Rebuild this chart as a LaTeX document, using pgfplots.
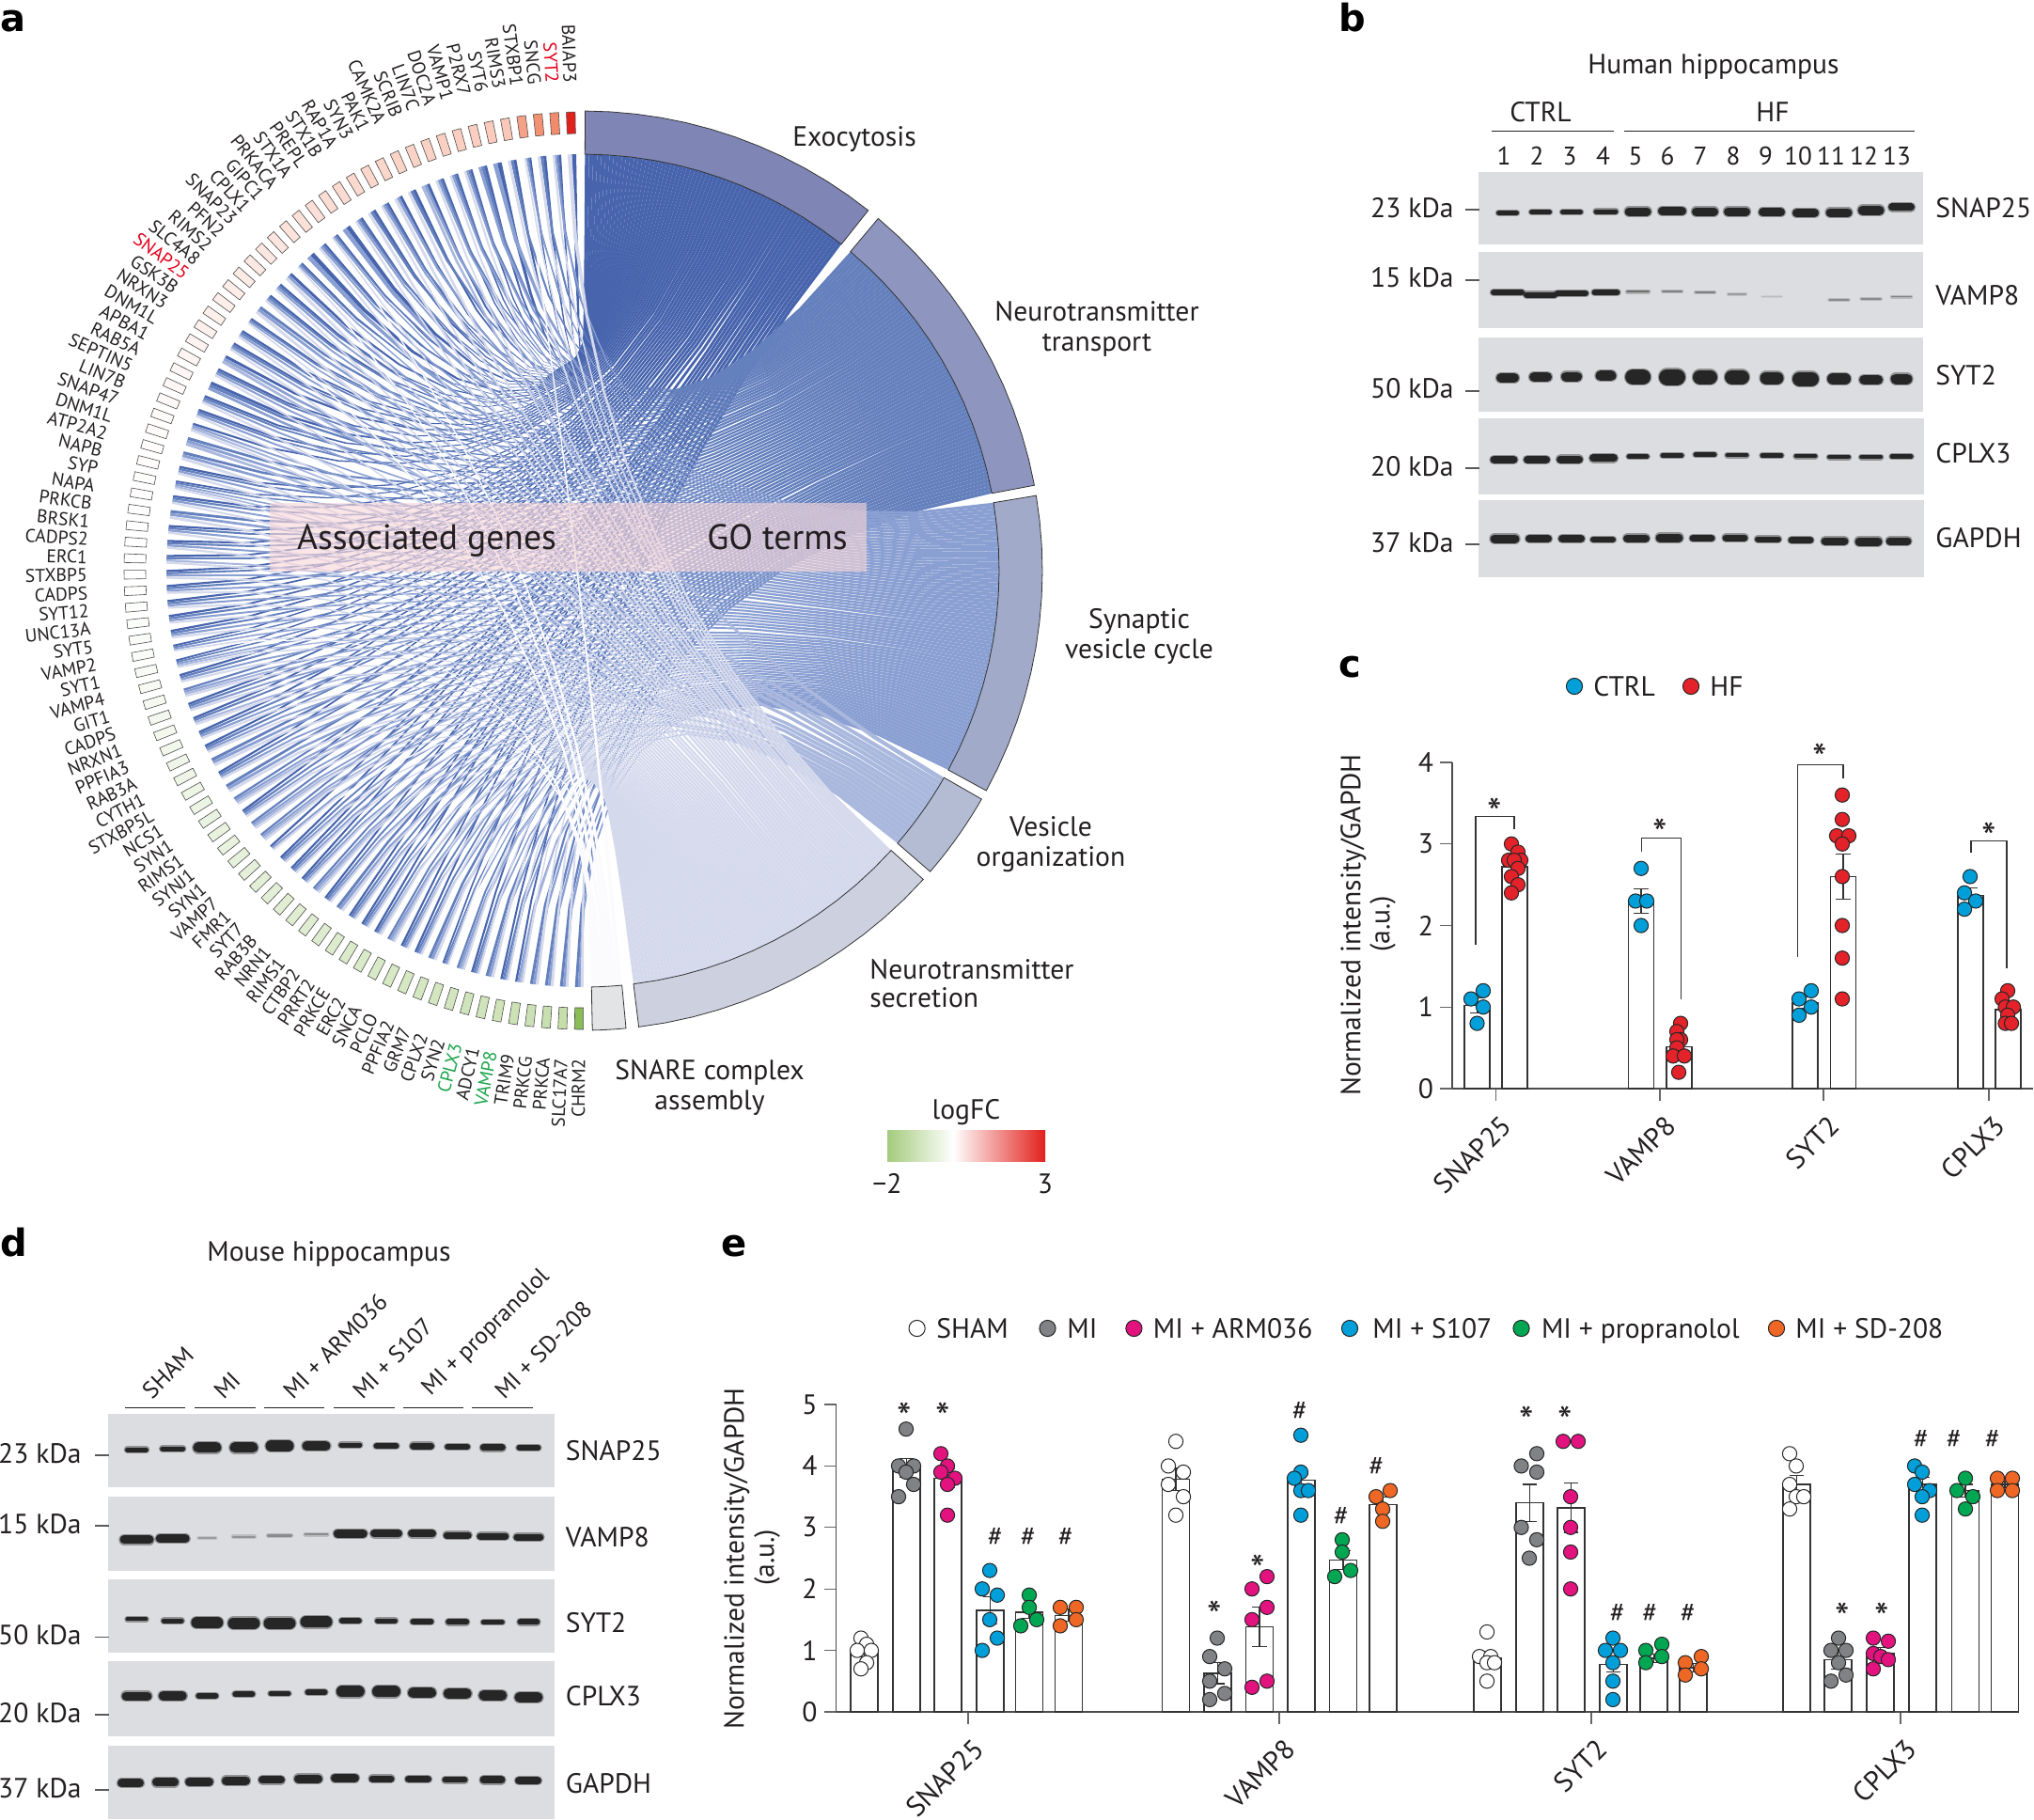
\documentclass[border=0pt]{standalone}
\usepackage{fontspec}
\setmainfont{PT Sans}
\newfontfamily\letterfont{DejaVu Sans}
\usepackage{pgfplots}
\pgfplotsset{compat=1.18}

% 1 reference pixel = 0.5pt
\newcommand\fs{\fontsize{14.8}{17}\selectfont}
\newcommand\fr{\fontsize{12.6}{15}\selectfont}
\newcommand\fn{\fontsize{13.6}{15}\selectfont}
\newcommand\fl{\fontsize{18.8}{22}\selectfont}
\newcommand\gfs{\fontsize{9.8}{11}\selectfont}
\newcommand\pl{\letterfont\bfseries\fontsize{20}{22}\selectfont}
\newcommand\st{\makebox[0pt]{\raisebox{-12.5pt}[0pt][0pt]{\fontsize{22}{22}\selectfont *}}}

\definecolor{txt}{HTML}{231F20}
\definecolor{goA}{HTML}{4764AD}
\definecolor{goB}{HTML}{6480BD}
\definecolor{goC}{HTML}{8A9FD2}
\definecolor{goD}{HTML}{AAB8DE}
\definecolor{goE}{HTML}{D4D9EC}
\definecolor{goF}{HTML}{FBFBFD}
\definecolor{bA}{HTML}{7F86B5}
\definecolor{bB}{HTML}{8E96C0}
\definecolor{bC}{HTML}{A1ABC9}
\definecolor{bD}{HTML}{B4BCD3}
\definecolor{bE}{HTML}{CDD1DF}
\definecolor{bF}{HTML}{E3E4E6}
\definecolor{colG}{HTML}{7DB545}
\definecolor{colO}{HTML}{EE5A2C}
\definecolor{colR}{HTML}{E2201C}
\definecolor{strip}{HTML}{F7D5D8}
\definecolor{blot}{HTML}{DCDDE0}
\definecolor{bd}{HTML}{262626}
\definecolor{barc}{HTML}{333333}
\definecolor{cblue}{HTML}{009FDA}
\definecolor{cred}{HTML}{E4222A}
\definecolor{cgrey}{HTML}{808285}
\definecolor{cmag}{HTML}{E2127F}
\definecolor{cgreen}{HTML}{00A651}
\definecolor{corange}{HTML}{EF6724}
\definecolor{gk}{HTML}{231F20}
\definecolor{gr}{HTML}{E2001A}
\definecolor{gg}{HTML}{1AA34A}

% gene table: name, logFC, linked GO terms, label colour
\newcount\ng \ng=0
\newcommand\gene[4]{\global\advance\ng by 1
  \expandafter\gdef\csname gn\the\ng\endcsname{#1}%
  \expandafter\gdef\csname gl\the\ng\endcsname{#2}%
  \expandafter\gdef\csname gt\the\ng\endcsname{#3}%
  \expandafter\gdef\csname gc\the\ng\endcsname{#4}}
\gene{BAIAP3}{3.0}{1,5}{gk}\gene{SYT2}{2.1}{1,2,3,5}{gr}\gene{SNCG}{2.0}{1,2,5}{gk}
\gene{STXBP1}{1.7}{1,2,3,5,6}{gk}\gene{RIMS3}{1.0}{1,2,5}{gk}\gene{SYT6}{0.95}{1,3}{gk}
\gene{P2RX7}{0.9}{1,2,3}{gk}\gene{VAMP1}{0.88}{1,2,3,5}{gk}\gene{DOC2A}{0.85}{1,2,3,5}{gk}
\gene{LIN7C}{0.82}{1,2,3,5}{gk}\gene{SCRIB}{0.8}{1,3,4}{gk}\gene{CAMK2A}{0.78}{1,2,5}{gk}
\gene{PAK1}{0.75}{1,3,5}{gk}\gene{SYN3}{0.72}{1,2,3,5}{gk}\gene{RAP1A}{0.7}{1,2,5}{gk}
\gene{STX1B}{0.66}{1,2,3,5}{gk}\gene{PREPL}{0.62}{1,3}{gk}\gene{STX1A}{0.58}{1,2,3,5,6}{gk}
\gene{PRKACA}{0.54}{1,2,3,5}{gk}\gene{GIPC1}{0.5}{1,3}{gk}\gene{CPLX1}{0.46}{1,2,3,5,6}{gk}
\gene{SNAP23}{0.43}{1,3,5}{gk}\gene{PFN2}{0.4}{1,2,3,5}{gk}\gene{RIMS2}{0.37}{1,2,3,5}{gk}
\gene{SLC4A8}{0.34}{2,3,5}{gk}\gene{SNAP25}{0.31}{1,2,3,5,6}{gr}\gene{GSK3B}{0.28}{1,2,3,5}{gk}
\gene{NRXN3}{0.25}{1,2,3,5}{gk}\gene{DNM1L}{0.22}{1,3,4}{gk}\gene{APBA1}{0.19}{1,2,3,5}{gk}
\gene{RAB5A}{0.16}{1,2,3}{gk}\gene{SEPTIN5}{0.14}{1,2,3,5}{gk}\gene{LIN7B}{0.12}{1,2,3,5}{gk}
\gene{SNAP47}{0.1}{1,3,4,5}{gk}\gene{DNM1L}{0.08}{2,3,4}{gk}\gene{ATP2A2}{0.06}{2,3,5}{gk}
\gene{NAPB}{0.05}{1,2,3,5}{gk}\gene{SYP}{0.04}{1,2,3,4,5}{gk}\gene{NAPA}{0.03}{1,2,3,5}{gk}
\gene{PRKCB}{0.02}{2,3,5}{gk}\gene{BRSK1}{0.01}{1,2,3,5}{gk}\gene{CADPS2}{0}{1,2,3,5}{gk}
\gene{ERC1}{0}{1,2,4,5}{gk}\gene{STXBP5}{0}{1,2,3,5}{gk}\gene{CADPS}{-0.02}{1,2,3,5}{gk}
\gene{SYT12}{-0.04}{1,2,3,5}{gk}\gene{UNC13A}{-0.06}{1,2,3,5}{gk}\gene{SYT5}{-0.08}{1,2,3,5}{gk}
\gene{VAMP2}{-0.1}{1,2,3,5,6}{gk}\gene{SYT1}{-0.12}{1,2,3,4,5}{gk}\gene{VAMP4}{-0.14}{1,2,3,5}{gk}
\gene{GIT1}{-0.16}{2,3,4,5}{gk}\gene{CADPS}{-0.18}{1,2,3,5}{gk}\gene{NRXN1}{-0.2}{1,2,4,5}{gk}
\gene{PPFIA3}{-0.22}{1,2,3,5}{gk}\gene{RAB3A}{-0.24}{1,2,3,5}{gk}\gene{CYTH1}{-0.26}{2,3,5}{gk}
\gene{STXBP5L}{-0.28}{1,2,3,5}{gk}\gene{NCS1}{-0.3}{2,3,5}{gk}\gene{SYN1}{-0.32}{2,3,4,5}{gk}
\gene{RIMS1}{-0.34}{1,2,3,5}{gk}\gene{SYNJ1}{-0.36}{2,3,4,5}{gk}\gene{SYN1}{-0.38}{2,3,4,5}{gk}
\gene{VAMP7}{-0.4}{1,3,5,6}{gk}\gene{FMR1}{-0.42}{1,2,3,5}{gk}\gene{SYT7}{-0.44}{1,2,3,5}{gk}
\gene{RAB3B}{-0.46}{1,2,3,5}{gk}\gene{NRN1}{-0.48}{2,3,4,5}{gk}\gene{RIMS1}{-0.5}{1,2,3,5}{gk}
\gene{CTBP2}{-0.52}{2,3,5}{gk}\gene{PRRT2}{-0.54}{1,2,3,5}{gk}\gene{PRKCE}{-0.56}{1,2,3,5}{gk}
\gene{ERC2}{-0.58}{1,2,4,5}{gk}\gene{SNCA}{-0.6}{2,3,4,5}{gk}\gene{PCLO}{-0.62}{1,2,3,5}{gk}
\gene{PPFIA2}{-0.64}{1,2,3,5}{gk}\gene{GRM7}{-0.66}{2,3,5}{gk}\gene{CPLX2}{-0.68}{1,2,3,5,6}{gk}
\gene{SYN2}{-0.7}{2,3,4,5}{gk}\gene{CPLX3}{-0.72}{1,2,3,5}{gg}\gene{ADCY1}{-0.74}{2,3,5}{gk}
\gene{VAMP8}{-0.76}{1,2,3,5}{gg}\gene{TRIM9}{-0.78}{1,3,4,5}{gk}\gene{PRKCG}{-0.8}{2,3,5}{gk}
\gene{PRKCA}{-0.85}{2,3,5}{gk}\gene{SLC17A7}{-0.9}{2,3,5}{gk}\gene{CHRM2}{-1.8}{2,3,5}{gk}

\newcount\nl \newcount\nn
\newcommand\ribbon[5]{%
  \pgfmathsetmacro\xa{443*sin(#1)}\pgfmathsetmacro\ya{443*cos(#1)}%
  \pgfmathsetmacro\xb{443*sin(#2)}\pgfmathsetmacro\yb{443*cos(#2)}%
  \pgfmathsetmacro\xc{443*sin(#3)}\pgfmathsetmacro\yc{443*cos(#3)}%
  \pgfmathsetmacro\xd{443*sin(#4)}\pgfmathsetmacro\yd{443*cos(#4)}%
  \gdef\co{}%
  \foreach \A/\B in {1/0,.81/.01,.64/.04,.49/.09,.36/.16,.25/.25,.16/.36,.09/.49,.04/.64,.01/.81,0/1}{%
    \pgfmathsetmacro\px{620+\A*\xa+\B*\xc}\pgfmathsetmacro\py{607-\A*\ya-\B*\yc}%
    \xdef\co{\co(\px,\py)}}%
  \foreach \A/\B in {0/1,.01/.81,.04/.64,.09/.49,.16/.36,.25/.25,.36/.16,.49/.09,.64/.04,.81/.01,1/0}{%
    \pgfmathsetmacro\px{620+\A*\xb+\B*\xd}\pgfmathsetmacro\py{607-\A*\yb-\B*\yd}%
    \xdef\co{\co(\px,\py)}}%
  \edef\tmp{\noexpand\addplot[forget plot,draw=none,fill=#5,no markers] coordinates {\co} -- cycle;}\tmp}

\newcommand\goband[3]{%
  \gdef\co{}%
  \foreach \s in {0,...,12}{\pgfmathsetmacro\th{#1+(#2-#1)*\s/12}%
    \pgfmathsetmacro\px{620+489*sin(\th)}\pgfmathsetmacro\py{607-489*cos(\th)}\xdef\co{\co(\px,\py)}}%
  \foreach \s in {12,11,...,0}{\pgfmathsetmacro\th{#1+(#2-#1)*\s/12}%
    \pgfmathsetmacro\px{620+443*sin(\th)}\pgfmathsetmacro\py{607-443*cos(\th)}\xdef\co{\co(\px,\py)}}%
  \edef\tmp{\noexpand\addplot[forget plot,draw=barc,line width=.4pt,fill=#3,no markers] coordinates {\co} -- cycle;}\tmp}

\newcommand\blot[4]{\addplot[forget plot,draw=none,fill=blot,no markers] coordinates {(#1,#2)(#3,#2)(#3,#4)(#1,#4)} -- cycle;}
\newcommand\kd[2]{\addplot[forget plot,no markers,color=black!65,line width=.6pt] coordinates {(#1,#2)(#1+15,#2)};}
\newcommand\bands[1]{%
  \foreach \x/\y/\w/\h/\s in {#1}{%
    \pgfmathsetmacro\xl{\x-\w/2+\h/2}\pgfmathsetmacro\xr{\x+\w/2-\h/2}%
    \pgfmathsetmacro\lw{\h*0.5}\pgfmathsetmacro\lh{(\h+2.5)*0.5}%
    \edef\tmp{\noexpand\addplot[forget plot,no markers,line cap=round,line width=\lh pt,color=bd!\s!blot,opacity=.4] coordinates {(\xl,\y)(\xr,\y)};
      \noexpand\addplot[forget plot,no markers,line cap=round,line width=\lw pt,color=bd!\s!blot] coordinates {(\xl,\y)(\xr,\y)};}\tmp}}
\tikzset{lab/.style={font=\fs,text=txt,inner sep=0pt,text height=10.4pt,text depth=0pt}}
\newcommand\txt[3][]{\node[lab,#1] at (axis cs:#2) {#3};}
\newcommand\keydot[2]{\addplot[forget plot,only marks,mark=*,mark size=4.3pt,mark options={fill=#2,draw=black!85,line width=.5pt}] coordinates {(#1)};}

% bar + error bar + single values
\newcommand\grp[5]{%
  \addplot[ybar,forget plot,bar width=\bw,bar shift=0pt,fill=white,draw=barc,line width=.7pt,
    error bars/.cd,y dir=both,y explicit,error bar style={line width=.6pt,color=barc},
    error mark options={rotate=90,mark size=3.8pt,line width=.6pt,color=barc}]
    coordinates {(#1,#2) +- (0,#3)};
  \addplot[forget plot,only marks,mark=*,mark size=3.8pt,mark options={fill=#4,draw=black!85,line width=.5pt}] coordinates {#5};}
\newcommand\sig[3]{\node[font=\fs,text=txt,inner sep=0pt] at (axis cs:#1,#2) {#3};}
\newcommand\brk[8]{\addplot[forget plot,no markers,color=barc,line width=.6pt] coordinates {(#1,#2)(#3,#4)(#5,#6)(#7,#8)};}

\pgfplotsset{panel/.style={scale only axis,anchor=south west,axis x line*=bottom,axis y line*=left,
  axis line style={-,color=black!70,line width=.6pt},tick style={color=black!60,line width=.6pt},
  tick align=outside,major tick length=6.5pt,clip=false,
  /pgf/number format/assume math mode=true,
  yticklabel style={font=\fs,text=txt},
  xticklabel style={font=\fs,text=txt,rotate=45,anchor=north east,inner sep=0pt,xshift=-3.5pt,yshift=-6pt},
  xticklabels={SNAP25,VAMP8,SYT2,CPLX3}}}

\begin{document}
\begin{tikzpicture}
\useasboundingbox (0,0) rectangle (1082pt,967.5pt);
\begin{axis}[at={(0,0)},anchor=south west,scale only axis,width=1082pt,height=967.5pt,
  xmin=0,xmax=2164,ymin=0,ymax=1935,y dir=reverse,hide axis,clip=false]

% --- a: ribbons, one GO term after the other
\foreach \tid/\ts/\te/\tc in {1/0.3/38.4/goA,2/40/79.3/goB,3/80.6/118.6/goC,4/119.8/130.9/goD,5/132.2/173/goE,6/174.6/178.8/goF}{%
  \global\nl=0
  \foreach \gi in {1,...,87}{%
    \expandafter\let\expandafter\tm\csname gt\gi\endcsname
    \foreach \dg in \tm {\ifnum\dg=\tid\relax\global\advance\nl by 1 \fi}}%
  \pgfmathsetmacro\db{(\te-\ts)/\the\nl}%
  \xdef\cur{\ts}%
  \foreach \gi in {1,...,87}{%
    \expandafter\let\expandafter\tm\csname gt\gi\endcsname
    \global\nn=0
    \foreach \dg in \tm {\global\advance\nn by 1 }%
    \foreach \dg [count=\kk] in \tm {%
      \ifnum\dg=\tid\relax
        \pgfmathsetmacro\gm{358.5-(\gi-1)*2.07}%
        \pgfmathsetmacro\ga{\gm+0.6-(\kk-1)*1.2/\the\nn}%
        \pgfmathsetmacro\gb{\gm+0.6-\kk*1.2/\the\nn}%
        \pgfmathsetmacro\tb{\cur+\db}%
        \ribbon{\ga}{\gb}{\cur}{\tb}{\tc}%
        \xdef\cur{\tb}%
      \fi}}}

% GO term bands
\goband{0.3}{38.4}{bA}\goband{40}{79.3}{bB}\goband{80.6}{118.6}{bC}
\goband{119.8}{130.9}{bD}\goband{132.2}{173}{bE}\goband{174.6}{178.8}{bF}

% gene tiles and names
\foreach \gi in {1,...,87}{%
  \pgfmathsetmacro\gm{358.5-(\gi-1)*2.07}%
  \pgfmathsetmacro\av{\gm+0.55}\pgfmathsetmacro\bv{\gm-0.55}%
  \pgfmathsetmacro\xa{620+488*sin(\av)}\pgfmathsetmacro\ya{607-488*cos(\av)}%
  \pgfmathsetmacro\xb{620+488*sin(\bv)}\pgfmathsetmacro\yb{607-488*cos(\bv)}%
  \pgfmathsetmacro\xc{620+465*sin(\bv)}\pgfmathsetmacro\yc{607-465*cos(\bv)}%
  \pgfmathsetmacro\xd{620+465*sin(\av)}\pgfmathsetmacro\yd{607-465*cos(\av)}%
  \edef\lf{\csname gl\gi\endcsname}%
  \pgfmathsetmacro\pc{\lf<0 ? -\lf/2*100 : (\lf>2.5 ? 100 : \lf/3*100)}%
  \pgfmathparse{\lf<0 ? "colG" : (\lf>2.5 ? "colR" : "colO")}\edef\hue{\pgfmathresult}%
  \pgfmathsetmacro\rl{519+8*abs(sin(\gm))}%
  \pgfmathsetmacro\lx{620+\rl*sin(\gm)}\pgfmathsetmacro\ly{607-\rl*cos(\gm)}%
  \pgfmathsetmacro\rot{270-\gm}%
  \edef\tmp{\noexpand\addplot[forget plot,draw=black!70,line width=.3pt,fill=\hue!\pc!white,no markers] coordinates {(\xa,\ya)(\xb,\yb)(\xc,\yc)(\xd,\yd)} -- cycle;
    \noexpand\node[anchor=east,rotate=\rot,inner sep=0pt,font=\noexpand\gfs,text=\csname gc\gi\endcsname] at (axis cs:\lx,\ly) {\csname gn\gi\endcsname};}\tmp}

% pink strip
\addplot[forget plot,draw=none,fill=strip,fill opacity=.62,no markers] coordinates {(287,535)(922,535)(922,608)(287,608)} -- cycle;
\node[font=\fl,text=txt,inner sep=0pt,text height=13pt,text depth=0pt] at (axis cs:454,571) {Associated genes};
\node[font=\fl,text=txt,inner sep=0pt,text height=13pt,text depth=0pt] at (axis cs:827,571) {GO terms};

\txt{909,145}{Exocytosis}
\txt{1167,331}{Neurotransmitter}\txt{1167,363}{transport}
\txt{1212,658}{Synaptic}\txt{1212,690}{vesicle cycle}
\txt{1118,879}{Vesicle}\txt{1118,911}{organization}
\txt[anchor=west]{925,1031}{Neurotransmitter}\txt[anchor=west]{925,1061}{secretion}
\txt{755,1138}{SNARE complex}\txt{755,1170}{assembly}

% logFC key
\addplot[forget plot,draw=none,left color=colG!70!white,right color=white,no markers] coordinates {(944,1202)(1014,1202)(1014,1235)(944,1235)} -- cycle;
\addplot[forget plot,draw=none,left color=white,right color=colR,no markers] coordinates {(1014,1202)(1112,1202)(1112,1235)(1014,1235)} -- cycle;
\txt{1028,1180}{logFC}\txt{944,1259}{−2}\txt{1112,1259}{3}

% --- b: blots
\txt{1823,68}{Human hippocampus}
\txt{1639,119}{CTRL}\txt{1886,119}{HF}
\addplot[forget plot,no markers,color=txt,line width=.8pt] coordinates {(1587,139.6)(1717,139.6)};
\addplot[forget plot,no markers,color=txt,line width=.8pt] coordinates {(1728,139.6)(2037,139.6)};
\foreach \n/\x in {1/1600,2/1635,3/1670,4/1705.5,5/1740,6/1774,7/1809,8/1844,9/1878.6,10/1913,11/1948,12/1983,13/2018}{%
  \edef\tmp{\noexpand\node[lab,font=\noexpand\fn] at (axis cs:\x,165) {\n};}\tmp}
\blot{1573}{183}{2046}{260}\blot{1573}{268}{2046}{349}\blot{1573}{359}{2046}{437.5}\blot{1573}{445}{2047}{526}\blot{1573}{532}{2047}{613.5}
\bands{1604/226.5/24/5/100,1639/225.7/24/5/100,1672/225.7/24/5/100,1708.5/225/26/5/100,1742.6/225/28/9/100,1779/224.5/30/9/100,1814/225/28/9/100,1848/225/28/9/100,1885/225.7/28/9/100,1921/226.5/28/9/100,1956.5/226/28/9/100,1990.6/223.7/28/10/100,2023/220.4/28/8/100}
\bands{1604/311/36/6/100,1639/313.5/36/6/100,1672/312/36/6/100,1708.5/311/30/6/100,1742.6/310/25/2.5/60,1779/310/22/2/50,1814/311/22/2/50,1848/313/20/1.5/35,1885/315.5/22/1/18,1956.5/319/22/1.5/45,1990.6/318/22/1.5/45,2023/315.5/22/1.5/50}
\bands{1604/402/24/10/100,1639/401/24/10/100,1672/400.5/22/10/100,1708.5/399.6/22/11/100,1742.6/401/27/16/100,1779/401/28/17/100,1814/401/26/15/100,1848/401/26/15/100,1885/402/25/13/100,1921/403/28/15/100,1956.5/403/25/12/100,1990.6/404/25/10/100,2023/403/23/11/100}
\bands{1600/489/29/8/100,1635/489/28/8/100,1670/488.6/28/8/100,1706/487.3/30/8/100,1742.6/485.7/24/5/100,1779/484.5/25/5/100,1814/483.7/25/5/100,1848/484/25/4.5/100,1885/484.5/25/4.5/100,1921/485/25/4.5/100,1956.5/486/25/4.5/100,1990.6/486/25/4.5/100,2023/485.7/25/4.5/100}
\bands{1601/573/31/9/100,1637/573/28/8/100,1672/573/28/8/100,1705.5/574/27/6/100,1741/572.6/28/8/100,1776/572/29/9/100,1811/572.6/27/7/100,1846/572/27/7/100,1881/573.5/28/6/100,1916/574.7/27/7/100,1952/575.5/29/8/100,1988/576/29/9/100,2020/575.5/27/8/100}
\kd{1559}{223}\kd{1559}{298}\kd{1559}{416}\kd{1559}{498}\kd{1559}{579}
\txt[anchor=east]{1547,221}{23 kDa}\txt[anchor=east]{1547,295}{15 kDa}\txt[anchor=east]{1547,413}{50 kDa}\txt[anchor=east]{1547,496}{20 kDa}\txt[anchor=east]{1547,577}{37 kDa}
\txt[anchor=west]{2059,221}{SNAP25}\txt[anchor=west]{2059,314}{VAMP8}\txt[anchor=west]{2059,399}{SYT2}\txt[anchor=west]{2059,482}{CPLX3}\txt[anchor=west]{2059,572}{GAPDH}

% --- d: blots
\txt{350,1331}{Mouse hippocampus}
\foreach \x/\n in {162/SHAM,238/MI,312/MI + ARM036,386/MI + S107,462/MI + propranolol,537/MI + SD-208}{%
  \edef\tmp{\noexpand\node[font=\noexpand\fr,text=txt,inner sep=0pt,rotate=45,anchor=south west] at (axis cs:\x,1490) {\n};}\tmp}
\foreach \a/\b in {133/197,207/272,280.5/345,355/420,429/493,502/567}{%
  \edef\tmp{\noexpand\addplot[forget plot,no markers,color=txt,line width=.8pt] coordinates {(\a,1497.6)(\b,1497.6)};}\tmp}
\blot{115}{1504}{590}{1581.5}\blot{115}{1591.6}{590}{1670.6}\blot{115}{1680}{590}{1758}\blot{115}{1767}{590}{1847}\blot{115}{1856.5}{590}{1935}
\bands{145.5/1542.2/25/5/100,183.7/1541/27/5/100,220.4/1539.8/30/11/100,259.4/1539.8/30/11/100,297.5/1538.2/30/12/100,336.5/1538.2/30/10/100,372.8/1537/25/5/100,411/1538.2/27/6/100,449/1538.2/26/7/100,486.7/1539/27/6/100,524.3/1539.8/27/7/100,562.4/1539.8/26/6/100}
\bands{145.5/1637.8/36/9/100,183.7/1636.6/36/9/100,220.4/1636.2/20/2/35,259.4/1634.6/25/2/40,297.5/1633.3/27/2.5/45,336.5/1632/26/2.5/45,372.8/1631.3/36/9/100,411/1631.3/34/8/100,449/1631.3/30/8/100,486.7/1633/30/7/100,524.3/1634/34/7/100,562.4/1635/32/7/100}
\bands{145.5/1722.4/24/4/100,183.7/1724/24/5/100,220.4/1726/34/12/100,259.4/1726.5/34/12/100,297.5/1726.5/34/12/100,336.5/1725.3/34/12/100,372.8/1724/24/6/100,411/1724/24/5/100,449/1724.9/25/6/100,486.7/1725.3/25/6/100,524.3/1725.7/25/5/100,562.4/1725.3/24/6/100}
\bands{145.5/1804.2/32/9/100,183.7/1803.8/30/10/100,220.4/1803.8/24/6/100,259.4/1802.2/24/6/100,297.5/1801.4/24/5/100,336.5/1800.2/24/6/100,372.8/1799.4/30/12/100,411/1799.4/30/12/100,449/1800.6/30/11/100,486.7/1801.4/30/11/100,524.3/1803.4/30/11/100,562.4/1805.5/30/11/100}
\bands{139/1896.6/28/9/100,176/1895.8/28/9/100,212/1895.4/30/9/100,251/1894.2/30/9/100,289/1893.4/28/8/100,328/1892.1/30/9/100,367/1891.3/30/9/100,406/1892.1/27/7/100,445/1892.5/28/7/100,484/1893.4/27/6/100,524/1893.4/27/8/100,562/1894.2/28/8/100}
\kd{101}{1548}\kd{101}{1623}\kd{101}{1741.5}\kd{101}{1824}\kd{101}{1904}
\txt[anchor=east]{87,1546}{23 kDa}\txt[anchor=east]{87,1621}{15 kDa}\txt[anchor=east]{87,1739}{50 kDa}\txt[anchor=east]{87,1822}{20 kDa}\txt[anchor=east]{87,1902}{37 kDa}
\txt[anchor=west]{601.5,1543}{SNAP25}\txt[anchor=west]{601.5,1635}{VAMP8}\txt[anchor=west]{601.5,1726.5}{SYT2}\txt[anchor=west]{601.5,1804}{CPLX3}\txt[anchor=west]{601.5,1897}{GAPDH}

% legends and y titles of c, e
\keydot{1675,730}{cblue}\txt[anchor=west]{1695,730}{CTRL}\keydot{1799,730}{cred}\txt[anchor=west]{1819,730}{HF}
\node[lab,rotate=90] at (axis cs:1437,984) {Normalized intensity/GAPDH};
\node[lab,rotate=90] at (axis cs:1468,983) {(a.u.)};
\keydot{975.6,1413}{white}\txt[anchor=west]{996,1413}{SHAM}
\keydot{1114.5,1413}{cgrey}\txt[anchor=west]{1135,1413}{MI}
\keydot{1206.4,1413}{cmag}\txt[anchor=west]{1226.5,1413}{MI + ARM036}
\keydot{1436,1413}{cblue}\txt[anchor=west]{1460,1413}{MI + S107}
\keydot{1618.5,1413}{cgreen}\txt[anchor=west]{1639.6,1413}{MI + propranolol}
\keydot{1890,1413}{corange}\txt[anchor=west]{1910,1413}{MI + SD-208}
\node[lab,rotate=90] at (axis cs:781,1658) {Normalized intensity/GAPDH};
\node[lab,rotate=90] at (axis cs:813,1657) {(a.u.)};

% panel letters
\node[font=\pl,text=black,inner sep=0pt,anchor=base west] at (axis cs:0,33) {a};
\node[font=\pl,text=black,inner sep=0pt,anchor=base west] at (axis cs:1424,33) {b};
\node[font=\pl,text=black,inner sep=0pt,anchor=base west] at (axis cs:1424,720) {c};
\node[font=\pl,text=black,inner sep=0pt,anchor=base west] at (axis cs:0,1336) {d};
\node[font=\pl,text=black,inner sep=0pt,anchor=base west] at (axis cs:767,1336) {e};
\end{axis}

% --- c
\def\bw{27}
\begin{axis}[panel,at={(772.5pt,388.5pt)},width=309pt,height=173.5pt,
  xmin=1545,xmax=2163,ymin=0,ymax=4,ytick={0,1,2,3,4},xtick={1591.5,1766,1940,2116}]
\grp{1571.5}{1.02}{0.09}{cblue}{(1578,1.2)(1565,1.1)(1578,1.0)(1571.5,0.8)}
\grp{1611.5}{2.72}{0.07}{cred}{(1608,3.0)(1615,2.9)(1605,2.8)(1618,2.8)(1611,2.8)(1615,2.7)(1608,2.6)(1615,2.5)(1608,2.4)}
\grp{1746}{2.3}{0.15}{cblue}{(1746,2.7)(1740,2.3)(1752,2.3)(1746,2.0)}
\grp{1786.5}{0.51}{0.07}{cred}{(1788,0.8)(1784,0.7)(1788,0.6)(1784,0.6)(1784,0.5)(1780,0.4)(1792,0.4)(1786,0.2)}
\grp{1920.5}{1.05}{0.07}{cblue}{(1927,1.2)(1914,1.1)(1927,1.0)(1914,0.9)}
\grp{1961}{2.6}{0.28}{cred}{(1960,3.6)(1960,3.3)(1954,3.1)(1967,3.1)(1960,3.0)(1960,2.6)(1960,2.0)(1960,1.6)(1960,1.1)}
\grp{2096.5}{2.37}{0.09}{cblue}{(2096,2.6)(2090,2.4)(2102,2.3)(2090,2.2)}
\grp{2136.5}{0.97}{0.1}{cred}{(2136,1.2)(2130,1.1)(2133.5,1.0)(2142,1.0)(2136,0.9)(2133.5,0.8)(2140,0.8)}
\brk{1570}{1.76}{1570}{3.34}{1611}{3.34}{1611}{3.18}
\brk{1746.5}{2.91}{1746.5}{3.07}{1788.4}{3.07}{1788.4}{1.10}
\brk{1912.7}{1.61}{1912.7}{3.97}{1961}{3.97}{1961}{3.80}
\brk{2097}{2.89}{2097}{3.04}{2135}{3.04}{2135}{1.47}
\sig{1590.5}{3.49}{\st}\sig{1766.5}{3.23}{\st}\sig{1936}{4.16}{\st}\sig{2116}{3.19}{\st}
\end{axis}

% --- e
\def\bw{29}
\begin{axis}[panel,at={(444.75pt,57pt)},width=628.75pt,height=163.5pt,
  xmin=889.5,xmax=2147,ymin=0,ymax=5,ytick={0,1,2,3,4,5},xtick={1030,1361,1693,2022}]
% SNAP25
\grp{919.5}{0.97}{0.07}{white}{(916,1.2)(922,1.1)(912,1.0)(927,1.0)(922,0.8)(916,0.7)}
\grp{964.5}{3.97}{0.15}{cgrey}{(964,4.6)(956,4.0)(972,4.0)(964,3.9)(972,3.7)(956,3.5)}
\grp{1008.5}{3.8}{0.15}{cmag}{(1001,4.2)(1008,4.0)(1001,3.9)(1016,3.8)(1008,3.7)(1008,3.2)}
\grp{1053.5}{1.65}{0.22}{cblue}{(1053,2.3)(1045,2.0)(1061,1.9)(1053,1.5)(1061,1.2)(1045,1.0)}
\grp{1095}{1.62}{0.1}{cgreen}{(1095,1.9)(1095,1.7)(1103,1.5)(1086,1.4)}
\grp{1137}{1.57}{0.1}{corange}{(1128,1.7)(1145,1.7)(1145,1.5)(1128,1.4)}
% VAMP8
\grp{1251}{3.78}{0.18}{white}{(1251,4.4)(1243,4.0)(1259,3.9)(1243,3.7)(1259,3.5)(1251,3.2)}
\grp{1295.5}{0.63}{0.17}{cgrey}{(1295,1.2)(1287,0.9)(1303,0.7)(1287,0.5)(1303,0.3)(1287,0.2)}
\grp{1340}{1.38}{0.32}{cmag}{(1348,2.2)(1332,2.0)(1348,1.7)(1332,1.5)(1348,0.5)(1332,0.4)}
\grp{1384.5}{3.77}{0.1}{cblue}{(1384,4.5)(1384,3.9)(1377,3.8)(1384,3.6)(1392,3.6)(1384,3.2)}
\grp{1429}{2.47}{0.15}{cgreen}{(1428,2.8)(1428,2.6)(1437,2.3)(1420,2.2)}
\grp{1471.5}{3.37}{0.12}{corange}{(1479,3.6)(1464,3.5)(1471,3.3)(1471,3.1)}
% SYT2
\grp{1582.5}{0.87}{0.08}{white}{(1582,1.3)(1574,0.9)(1586,0.9)(1582,0.8)(1590,0.8)(1582,0.5)}
\grp{1627.5}{3.4}{0.3}{cgrey}{(1635,4.2)(1618.5,4.0)(1635,3.9)(1618.5,3.0)(1635,2.8)(1627,2.5)}
\grp{1671.5}{3.32}{0.4}{cmag}{(1663,4.4)(1679,4.4)(1671,3.5)(1671,3.0)(1671,2.6)(1671,2.0)}
\grp{1716.5}{0.77}{0.12}{cblue}{(1716,1.2)(1708,1.0)(1724,1.0)(1716,0.8)(1716,0.5)(1716,0.2)}
\grp{1759.5}{0.87}{0.07}{cgreen}{(1768,1.1)(1751,1.0)(1768,0.9)(1751,0.8)}
\grp{1801.5}{0.72}{0.07}{corange}{(1810,0.9)(1793,0.8)(1810,0.7)(1793,0.6)}
% CPLX3
\grp{1911.5}{3.7}{0.14}{white}{(1904,4.2)(1911,4.0)(1904,3.7)(1911,3.5)(1919,3.5)(1904,3.3)}
\grp{1955.5}{0.85}{0.15}{cgrey}{(1956,1.2)(1948,1.0)(1964,1.0)(1956,0.8)(1964,0.6)(1948,0.5)}
\grp{2000.5}{0.95}{0.1}{cmag}{(1993,1.2)(2009,1.15)(1993,0.95)(2001,0.9)(2009,0.85)(1993,0.7)}
\grp{2045.5}{3.7}{0.12}{cblue}{(2037,4.0)(2045,3.9)(2037,3.7)(2053,3.6)(2045,3.5)(2045,3.2)}
\grp{2091}{3.6}{0.1}{cgreen}{(2091,3.8)(2082,3.6)(2099,3.5)(2091,3.3)}
\grp{2133}{3.7}{0.05}{corange}{(2125,3.8)(2141,3.8)(2125,3.6)(2141,3.6)}
\sig{961.8}{4.93}{\st}\sig{1003}{4.93}{\st}\sig{1059}{2.85}{\#}\sig{1094}{2.85}{\#}\sig{1134}{2.85}{\#}
\sig{1292.6}{1.71}{\st}\sig{1338}{2.45}{\st}\sig{1383}{4.89}{\#}\sig{1427}{3.18}{\#}\sig{1464.5}{3.99}{\#}
\sig{1624}{4.87}{\st}\sig{1665.7}{4.87}{\st}\sig{1721}{1.61}{\#}\sig{1755.5}{1.61}{\#}\sig{1796}{1.61}{\#}
\sig{2044}{4.43}{\#}\sig{2079}{4.43}{\#}\sig{2120}{4.43}{\#}\sig{1960}{1.68}{\st}\sig{2002}{1.68}{\st}
\end{axis}
\end{tikzpicture}
\end{document}
